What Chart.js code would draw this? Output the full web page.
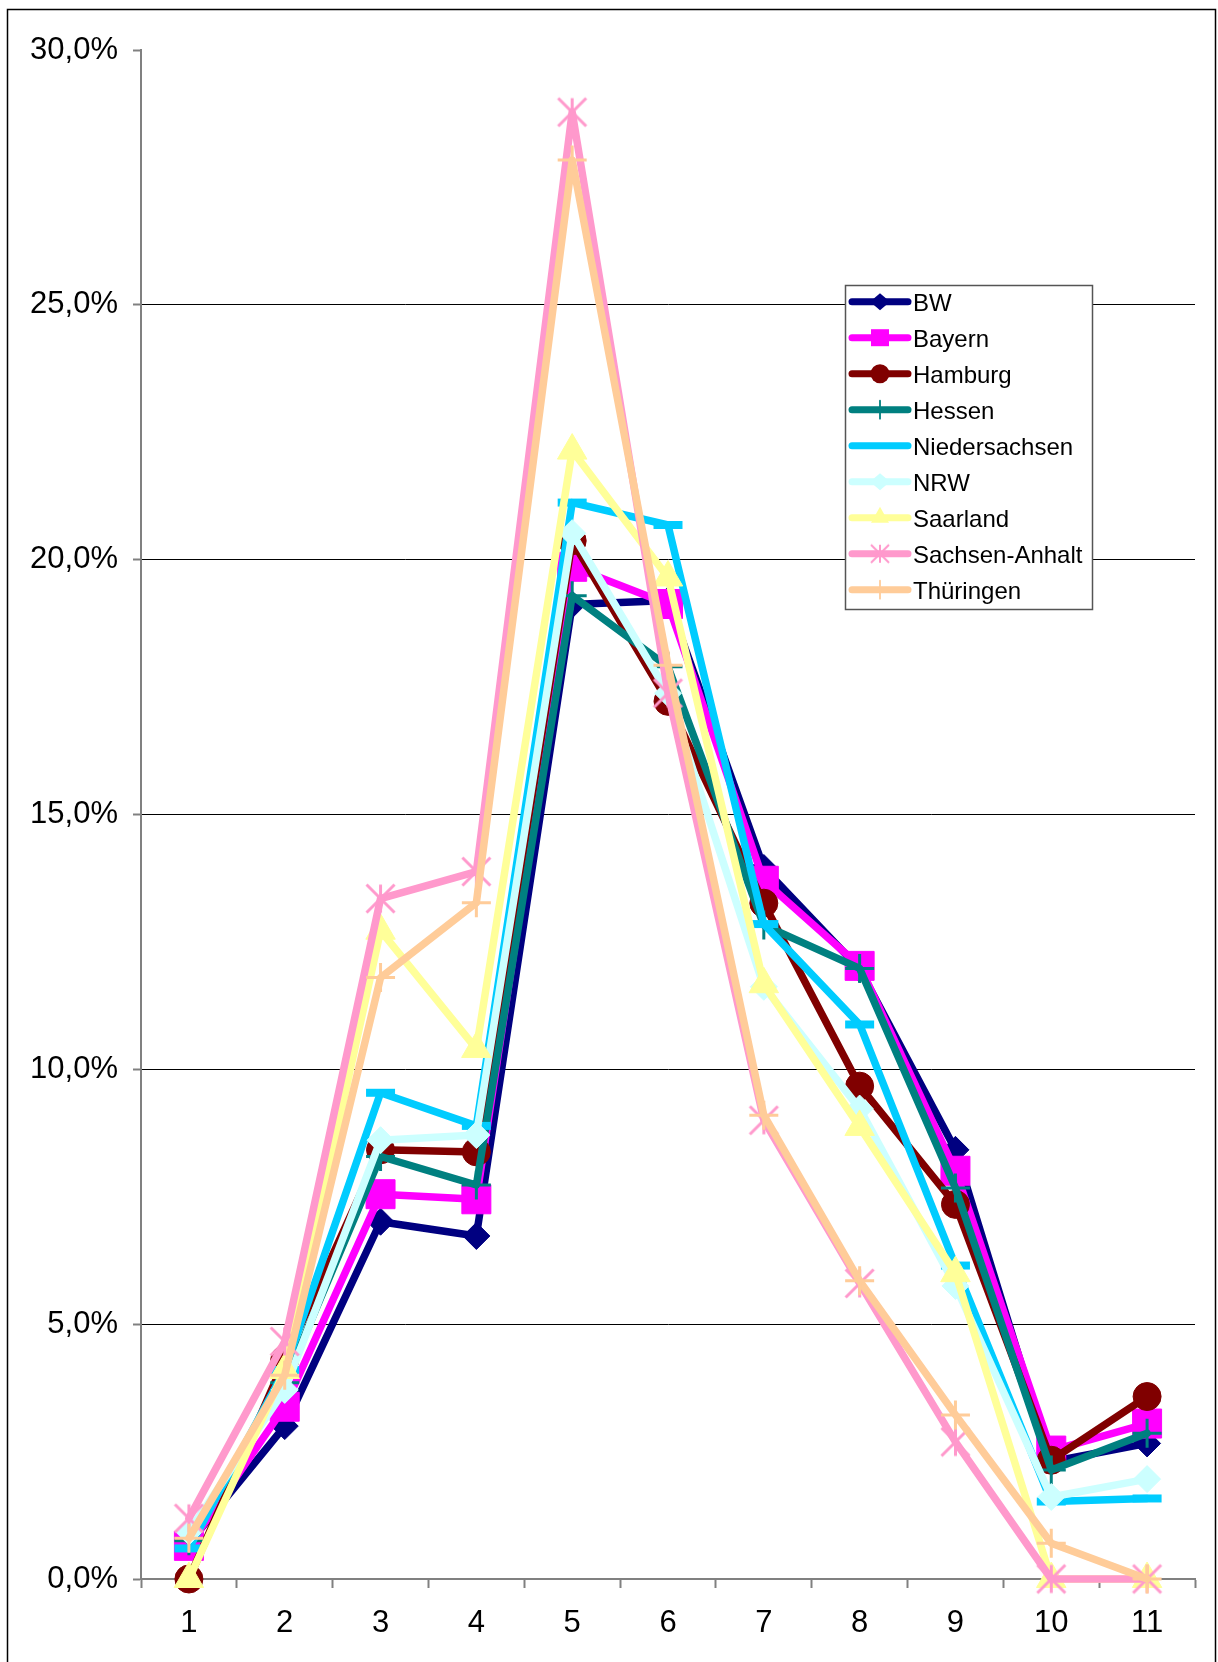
<!DOCTYPE html>
<html>
<head>
<meta charset="utf-8">
<script src="https://cdn.jsdelivr.net/npm/chart.js@4/dist/chart.umd.min.js"></script>
<style>
  html, body { margin: 0; padding: 0; background: #ffffff; }
  #wrap { position: relative; width: 1218px; height: 1662px; }
  canvas { display: block; }
</style>
</head>
<body>
<div id="wrap"><canvas id="chart" width="1218" height="1662"></canvas></div>
<script>
// Categories on the x axis
const categories = ['1', '2', '3', '4', '5', '6', '7', '8', '9', '10', '11'];

// Shares per federal state (percent)
const bw            = [0.70, 3.00, 7.01, 6.73, 19.12, 19.20, 13.95, 11.97, 8.42, 2.30, 2.66];
const bayern        = [0.65, 3.38, 7.55, 7.45, 19.86, 19.13, 13.70, 12.03, 8.01, 2.52, 3.05];
const hamburg       = [0.00, 4.30, 8.42, 8.38, 20.37, 17.22, 13.26, 9.67, 7.35, 2.33, 3.58];
const hessen        = [0.75, 3.85, 8.29, 7.73, 19.29, 17.90, 12.83, 11.98, 7.67, 2.14, 2.86];
const niedersachsen = [0.60, 4.10, 9.54, 8.89, 21.12, 20.68, 12.85, 10.88, 6.15, 1.52, 1.58];
const nrw           = [0.93, 3.71, 8.61, 8.71, 20.52, 17.38, 11.62, 9.23, 5.75, 1.61, 1.96];
const saarland      = [0.00, 4.10, 12.72, 10.40, 22.14, 19.65, 11.67, 8.87, 6.00, 0.00, 0.00];
const sachsenAnhalt = [1.19, 4.66, 13.35, 13.88, 28.78, 17.38, 9.00, 5.80, 2.69, 0.00, 0.00];
const thueringen    = [0.80, 4.00, 11.80, 13.27, 27.84, 17.93, 9.10, 5.85, 3.22, 0.70, 0.00];

// Series names in legend order
const seriesNames = ['BW', 'Bayern', 'Hamburg', 'Hessen', 'Niedersachsen', 'NRW', 'Saarland', 'Sachsen-Anhalt', 'Thüringen'];
const seriesValues = [bw, bayern, hamburg, hessen, niedersachsen, nrw, saarland, sachsenAnhalt, thueringen];

// Y axis range and tick step (percent)
const yMin = 0, yMax = 30, yStep = 5;

// Series styling
const seriesColors = ['#000080', '#FF00FF', '#800000', '#008080', '#00CCFF', '#CCFFFF', '#FFFF99', '#FF99CC', '#FFCC99'];
const seriesMarkers = ['rectRot', 'rect', 'circle', 'cross', 'line', 'rectRot', 'triangle', 'asterisk', 'cross'];

// Asterisk marker: vertical stroke plus two diagonals
function makeAsterisk(r, lw, color) {
  const size = Math.ceil(2 * r + lw + 2);
  const c = document.createElement('canvas');
  c.width = size; c.height = size;
  const g = c.getContext('2d');
  const m = size / 2;
  g.strokeStyle = color;
  g.lineWidth = lw;
  g.lineCap = 'butt';
  g.beginPath();
  g.moveTo(m, m - r); g.lineTo(m, m + r);
  g.moveTo(m - r, m - r); g.lineTo(m + r, m + r);
  g.moveTo(m + r, m - r); g.lineTo(m - r, m + r);
  g.stroke();
  return c;
}

const asteriskBig = makeAsterisk(14, 3, '#FF99CC');
const asteriskSmall = makeAsterisk(9, 2, '#FF99CC');

// Marker geometry on the plot
const markerRadius = { rectRot: 13.5, rect: 20.5, circle: 14, cross: 14.5, line: 14.5, triangle: 17, asterisk: 14 };
const markerBorder = { rectRot: 1, rect: 1, circle: 1, cross: 3, line: 8, triangle: 1, asterisk: 1 };

const datasets = seriesNames.map((name, i) => {
  const m = seriesMarkers[i];
  const col = seriesColors[i];
  return {
    label: name,
    data: seriesValues[i],
    borderColor: col,
    backgroundColor: col,
    borderWidth: 7.5,
    borderCapStyle: 'round',
    borderJoinStyle: 'round',
    tension: 0,
    fill: false,
    clip: false,
    order: seriesNames.length - i,
    pointStyle: m === 'asterisk' ? asteriskBig : m,
    pointRadius: markerRadius[m],
    pointHoverRadius: markerRadius[m],
    pointBorderWidth: markerBorder[m],
    pointBackgroundColor: col,
    pointBorderColor: col
  };
});

function fmtPercent(v) {
  return v.toFixed(1).replace('.', ',') + '%';
}

// Outer frame
const framePlugin = {
  id: 'frame',
  beforeDraw(chart) {
    const ctx = chart.ctx;
    ctx.save();
    ctx.fillStyle = '#ffffff';
    ctx.fillRect(0, 0, chart.width, chart.height);
    ctx.strokeStyle = '#000000';
    ctx.lineWidth = 1.5;
    ctx.strokeRect(7.5, 9.5, 1208, 1700);
    ctx.restore();
  }
};

// Small marker drawer for the legend
function drawLegendMarker(ctx, style, x, y, color) {
  ctx.save();
  ctx.fillStyle = color;
  ctx.strokeStyle = color;
  ctx.beginPath();
  switch (style) {
    case 'rectRot': {
      const r = 10;
      ctx.moveTo(x, y - r * 0.85); ctx.lineTo(x + r, y); ctx.lineTo(x, y + r * 0.85); ctx.lineTo(x - r, y);
      ctx.closePath(); ctx.fill();
      break;
    }
    case 'rect': {
      ctx.rect(x - 9, y - 8.5, 18, 17); ctx.fill();
      break;
    }
    case 'circle': {
      ctx.arc(x, y, 9.5, 0, Math.PI * 2); ctx.fill();
      break;
    }
    case 'cross': {
      ctx.lineWidth = 1.8;
      ctx.moveTo(x, y - 9); ctx.lineTo(x, y + 9);
      ctx.moveTo(x - 9, y); ctx.lineTo(x + 9, y);
      ctx.stroke();
      break;
    }
    case 'triangle': {
      ctx.moveTo(x, y - 11); ctx.lineTo(x + 9, y + 5); ctx.lineTo(x - 9, y + 5);
      ctx.closePath(); ctx.fill();
      break;
    }
    case 'asterisk': {
      ctx.drawImage(asteriskSmall, x - asteriskSmall.width / 2, y - asteriskSmall.height / 2);
      break;
    }
    default:
      break;
  }
  ctx.restore();
}

// Legend box inside the plot area
const legendPlugin = {
  id: 'boxLegend',
  afterDatasetsDraw(chart) {
    const ctx = chart.ctx;
    const bx = 845.5, by = 285.5, bw_ = 247, bh = 324;
    ctx.save();
    ctx.fillStyle = '#ffffff';
    ctx.fillRect(bx, by, bw_, bh);
    ctx.strokeStyle = '#555555';
    ctx.lineWidth = 1.5;
    ctx.strokeRect(bx, by, bw_, bh);
    ctx.font = '24px "Liberation Sans", Arial, sans-serif';
    ctx.textBaseline = 'alphabetic';
    ctx.textAlign = 'left';
    chart.data.datasets.forEach((ds, i) => {
      const y = 301.7 + 36 * i;
      ctx.strokeStyle = ds.borderColor;
      ctx.lineWidth = 7;
      ctx.lineCap = 'round';
      ctx.beginPath();
      ctx.moveTo(852, y);
      ctx.lineTo(908, y);
      ctx.stroke();
      drawLegendMarker(ctx, seriesMarkers[i], 880, y, ds.borderColor);
      ctx.fillStyle = '#000000';
      ctx.fillText(ds.label, 913, y + 9);
    });
    ctx.restore();
  }
};

new Chart(document.getElementById('chart'), {
  type: 'line',
  data: { labels: categories, datasets: datasets },
  plugins: [framePlugin, legendPlugin],
  options: {
    responsive: false,
    animation: false,
    devicePixelRatio: 1,
    layout: { padding: { left: 0, right: 23, top: 50, bottom: 0 } },
    plugins: {
      legend: { display: false },
      tooltip: { enabled: false }
    },
    scales: {
      x: {
        type: 'category',
        offset: true,
        grid: {
          offset: true,
          drawOnChartArea: false,
          drawTicks: true,
          tickLength: 9,
          tickColor: '#808080',
          tickWidth: 2,
          color: '#808080'
        },
        border: { color: '#808080', width: 2 },
        ticks: {
          color: '#000000',
          font: { family: '"Liberation Sans", Arial, sans-serif', size: 31 },
          padding: 17,
          maxRotation: 0,
          autoSkip: false
        },
        afterFit(scale) { scale.height = 83; }
      },
      y: {
        min: yMin,
        max: yMax,
        ticks: {
          stepSize: yStep,
          color: '#000000',
          font: { family: '"Liberation Sans", Arial, sans-serif', size: 31 },
          padding: 15,
          callback: (v) => fmtPercent(v)
        },
        grid: {
          color: (c) => (c.tick && (c.tick.value === yMax || c.tick.value === yMin)) ? 'rgba(0,0,0,0)' : '#000000',
          lineWidth: 1,
          drawTicks: true,
          tickLength: 8,
          tickColor: '#808080',
          tickWidth: 2
        },
        border: { color: '#808080', width: 2 },
        afterFit(scale) { scale.width = 141; }
      }
    }
  }
});
</script>
</body>
</html>
